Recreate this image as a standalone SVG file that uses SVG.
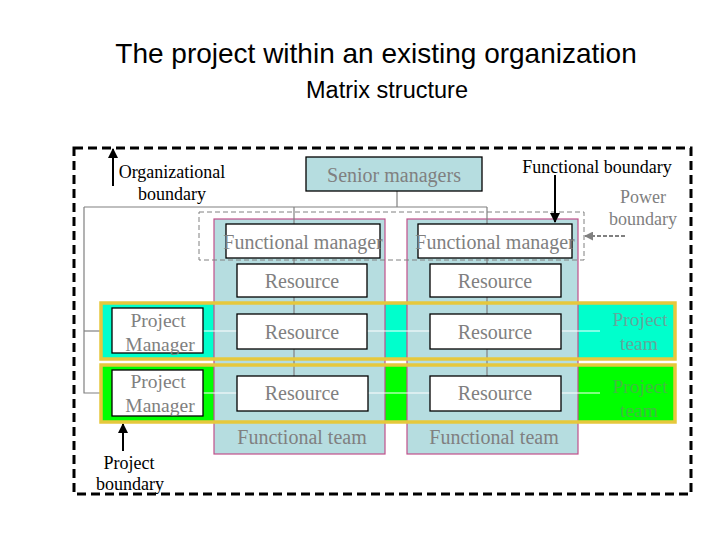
<svg xmlns="http://www.w3.org/2000/svg" width="720" height="540" viewBox="0 0 720 540">
<defs>
<style>
.t{font-family:"Liberation Serif","Times New Roman",serif;}
.g{fill:#808080;}
.k{fill:#000;}
.box{fill:#fff;stroke:#000;stroke-width:1.3;}
.col{fill:#b6dde0;stroke:#c0508a;stroke-width:1.2;}
.conn{stroke:#808080;stroke-width:1.2;fill:none;}
.wl{stroke:#fff;stroke-width:1.2;fill:none;}
.band{stroke:#e6c83c;stroke-width:3.5;fill:none;}
</style>
<marker id="ah" viewBox="0 0 10 10" refX="9" refY="5" markerWidth="5" markerHeight="5" orient="auto"><path d="M0,0 L10,5 L0,10 z" fill="#000"/></marker>
<marker id="ahg" viewBox="0 0 10 10" refX="9" refY="5" markerWidth="5" markerHeight="5" orient="auto"><path d="M0,0 L10,5 L0,10 z" fill="#808080"/></marker>
</defs>
<rect width="720" height="540" fill="#fff"/>
<text x="376" y="63" font-family="Liberation Sans,Arial,sans-serif" font-size="28" text-anchor="middle" fill="#000">The project within an existing organization</text>
<text x="387" y="98" font-family="Liberation Sans,Arial,sans-serif" font-size="23.5" text-anchor="middle" fill="#000">Matrix structure</text>

<g id="org-boundary">
<rect x="74" y="148" width="617" height="346" fill="none" stroke="#000" stroke-width="3" stroke-dasharray="9,5"/>
</g>

<g id="band-fills">
<rect x="101" y="303" width="574" height="56" fill="#00ffcc"/>
<rect x="101" y="365" width="574" height="57" fill="#00ff00"/>
</g>

<g id="connectors-back">
<polyline class="conn" points="397,191 397,207"/>
<polyline class="conn" points="84,207 487,207"/>
<polyline class="conn" points="84,207 84,393 101,393"/>
<polyline class="conn" points="84,331 101,331"/>
</g>

<g id="func-col-1"><rect class="col" x="214" y="219" width="171" height="235"/></g>
<g id="func-col-2"><rect class="col" x="407" y="219" width="171" height="235"/></g>

<g id="power-boundary">
<rect x="199" y="212" width="385" height="48" fill="none" stroke="#808080" stroke-width="1" stroke-dasharray="5,3"/>
</g>

<g id="connectors">
<polyline class="conn" points="294,207 294,376"/>
<polyline class="conn" points="487,207 487,376"/>
<polyline class="wl" points="203,331 237,331"/>
<polyline class="wl" points="367,331 430,331"/>
<polyline class="wl" points="561,331 600,331"/>
<polyline class="wl" points="203,393 237,393"/>
<polyline class="wl" points="368,393 430,393"/>
<polyline class="wl" points="561,393 600,393"/>
<line x1="113" y1="186" x2="113" y2="149" stroke="#000" stroke-width="2" marker-end="url(#ah)"/>
<line x1="555" y1="175" x2="555" y2="222" stroke="#000" stroke-width="2" marker-end="url(#ah)"/>
<line x1="625" y1="236" x2="585" y2="236" stroke="#808080" stroke-width="1.8" stroke-dasharray="4,2" marker-end="url(#ahg)"/>
<line x1="123" y1="451" x2="123" y2="424" stroke="#000" stroke-width="2" marker-end="url(#ah)"/>
</g>

<g id="band-outlines">
<rect class="band" x="101" y="303" width="574" height="56"/>
<rect class="band" x="101" y="365" width="574" height="57"/>
</g>

<g id="senior-managers">
<rect x="306" y="157" width="176" height="34" fill="#b6dde0" stroke="#000" stroke-width="1.3"/>
<text class="t g" x="394" y="182" font-size="20" text-anchor="middle">Senior managers</text>
</g>

<g id="func-manager-1">
<rect class="box" x="226" y="224" width="154" height="34"/>
<text class="t g" x="303" y="249" font-size="20" text-anchor="middle">Functional manager</text>
</g>
<g id="func-manager-2">
<rect class="box" x="418" y="224" width="154" height="34"/>
<text class="t g" x="495" y="249" font-size="20" text-anchor="middle">Functional manager</text>
</g>

<g id="resource-1-1"><rect class="box" x="237" y="264" width="130" height="33"/><text class="t g" x="302" y="288" font-size="20" text-anchor="middle">Resource</text></g>
<g id="resource-1-2"><rect class="box" x="430" y="264" width="131" height="33"/><text class="t g" x="495" y="288" font-size="20" text-anchor="middle">Resource</text></g>
<g id="resource-2-1"><rect class="box" x="237" y="314" width="130" height="35"/><text class="t g" x="302" y="339" font-size="20" text-anchor="middle">Resource</text></g>
<g id="resource-2-2"><rect class="box" x="430" y="314" width="131" height="35"/><text class="t g" x="495" y="339" font-size="20" text-anchor="middle">Resource</text></g>
<g id="resource-3-1"><rect class="box" x="237" y="376" width="131" height="35"/><text class="t g" x="302" y="400" font-size="20" text-anchor="middle">Resource</text></g>
<g id="resource-3-2"><rect class="box" x="430" y="376" width="131" height="35"/><text class="t g" x="495" y="400" font-size="20" text-anchor="middle">Resource</text></g>

<g id="project-manager-1">
<rect class="box" x="112" y="308" width="91" height="45"/>
<text class="t g" x="158" y="327" font-size="19.5" text-anchor="middle">Project</text>
<text class="t g" x="160" y="351" font-size="19.5" text-anchor="middle">Manager</text>
</g>
<g id="project-manager-2">
<rect class="box" x="112" y="370" width="91" height="46"/>
<text class="t g" x="158" y="388" font-size="19.5" text-anchor="middle">Project</text>
<text class="t g" x="160" y="412" font-size="19.5" text-anchor="middle">Manager</text>
</g>

<g id="project-team-1">
<text class="t" x="640" y="326" font-size="19.5" text-anchor="middle" fill="#62a89c">Project</text>
<text class="t" x="639" y="350" font-size="19.5" text-anchor="middle" fill="#62a89c">team</text>
</g>
<g id="project-team-2">
<text class="t" x="640" y="393" font-size="19.5" text-anchor="middle" fill="#40bb40">Project</text>
<text class="t" x="639" y="417" font-size="19.5" text-anchor="middle" fill="#40bb40">team</text>
</g>

<g id="functional-team-labels">
<text class="t g" x="302" y="444" font-size="20" text-anchor="middle">Functional team</text>
<text class="t g" x="494" y="444" font-size="20" text-anchor="middle">Functional team</text>
</g>

<g id="labels">
<text class="t k" x="172" y="178" font-size="18" text-anchor="middle">Organizational</text>
<text class="t k" x="172" y="200" font-size="18" text-anchor="middle">boundary</text>
<text class="t k" x="597" y="173" font-size="18" text-anchor="middle">Functional boundary</text>
<text class="t g" x="643" y="203" font-size="18" text-anchor="middle">Power</text>
<text class="t g" x="643" y="225" font-size="18" text-anchor="middle">boundary</text>
<text class="t k" x="129" y="469" font-size="18" text-anchor="middle">Project</text>
<text class="t k" x="130" y="490" font-size="18" text-anchor="middle">boundary</text>
</g>
</svg>
